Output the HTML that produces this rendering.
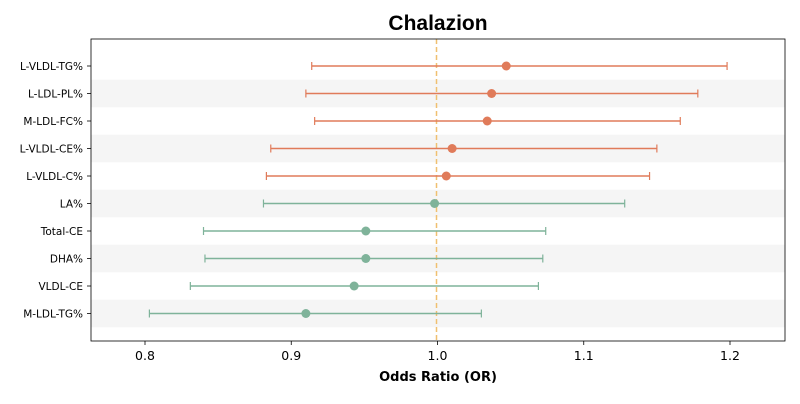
<!DOCTYPE html>
<html><head><meta charset="utf-8"><style>
body{margin:0;background:#fff;width:800px;height:400px;overflow:hidden;font-family:"DejaVu Sans","Liberation Sans",sans-serif}
</style></head><body>
<svg id="chart" width="800" height="400" xmlns="http://www.w3.org/2000/svg"></svg>
<script>
const labels=["L-VLDL-TG%","L-LDL-PL%","M-LDL-FC%","L-VLDL-CE%","L-VLDL-C%","LA%","Total-CE","DHA%","VLDL-CE","M-LDL-TG%"];
const orValues=[1.047,1.037,1.034,1.010,1.006,0.998,0.951,0.951,0.943,0.910];
const lowerCI=[0.914,0.910,0.916,0.886,0.883,0.881,0.840,0.841,0.831,0.803];
const upperCI=[1.198,1.178,1.166,1.150,1.145,1.128,1.074,1.072,1.069,1.030];
const xTicks=[0.8,0.9,1.0,1.1,1.2];
const xTickLabels=["0.8","0.9","1.0","1.1","1.2"];
const NS="http://www.w3.org/2000/svg",svg=document.getElementById('chart');
const L=91,R=785,T=39,B=341;
const x=v=>145+(v-0.8)*1462.5;
const rowH=27.5,y=i=>66+i*rowH;
function mk(tag,a,txt){const e=document.createElementNS(NS,tag);for(const k in a)e.setAttribute(k,a[k]);if(txt!=null)e.textContent=txt;svg.appendChild(e);return e;}
labels.forEach((l,i)=>{if(i%2==1){const r=mk('rect',{x:L,y:y(i)-rowH/2,width:R-L,height:rowH,fill:'#f5f5f5'});

}});
const t=mk('text',{x:438,y:30,'text-anchor':'middle','font-size':21,'font-weight':'bold','font-family':'Liberation Sans, sans-serif',fill:'#000'},'Chalazion');

const rl=mk('line',{x1:x(1)-1,x2:x(1)-1,y1:T,y2:B,stroke:'#f0c070','stroke-width':1.5,'stroke-dasharray':'5,3'});

labels.forEach((l,i)=>{
 const c=orValues[i]>=1?'#e07b5a':'#7fb39a',yy=y(i);
 const g=document.createElementNS(NS,'g');svg.appendChild(g);
 
 
 const add=(tag,a)=>{const e=document.createElementNS(NS,tag);for(const k in a)e.setAttribute(k,a[k]);g.appendChild(e);};
 add('line',{x1:x(lowerCI[i]),x2:x(upperCI[i]),y1:yy,y2:yy,stroke:c,'stroke-width':1.5});
 add('line',{x1:x(lowerCI[i]),x2:x(lowerCI[i]),y1:yy-4,y2:yy+4,stroke:c,'stroke-width':1.2});
 add('line',{x1:x(upperCI[i]),x2:x(upperCI[i]),y1:yy-4,y2:yy+4,stroke:c,'stroke-width':1.2});
 add('circle',{cx:x(orValues[i]),cy:yy,r:4.5,fill:c});
 const lt=mk('text',{x:L-8,y:yy+4,'text-anchor':'end','font-size':10.5,fill:'#000'},l);
 
 mk('line',{x1:L-4,x2:L,y1:yy,y2:yy,stroke:'#000','stroke-width':0.8});
});
const fr=mk('rect',{x:L,y:T,width:R-L,height:B-T,fill:'none',stroke:'#000','stroke-width':0.8});

xTicks.forEach((v,i)=>{mk('line',{x1:x(v),x2:x(v),y1:B,y2:B+4,stroke:'#000','stroke-width':0.8});
 const tl=mk('text',{x:x(v),y:B+19,'text-anchor':'middle','font-size':12.5,fill:'#000'},xTickLabels[i]);
 });
const xt=mk('text',{x:438,y:381,'text-anchor':'middle','font-size':13,'font-weight':'bold',fill:'#000'},'Odds Ratio (OR)');

</script></body></html>
